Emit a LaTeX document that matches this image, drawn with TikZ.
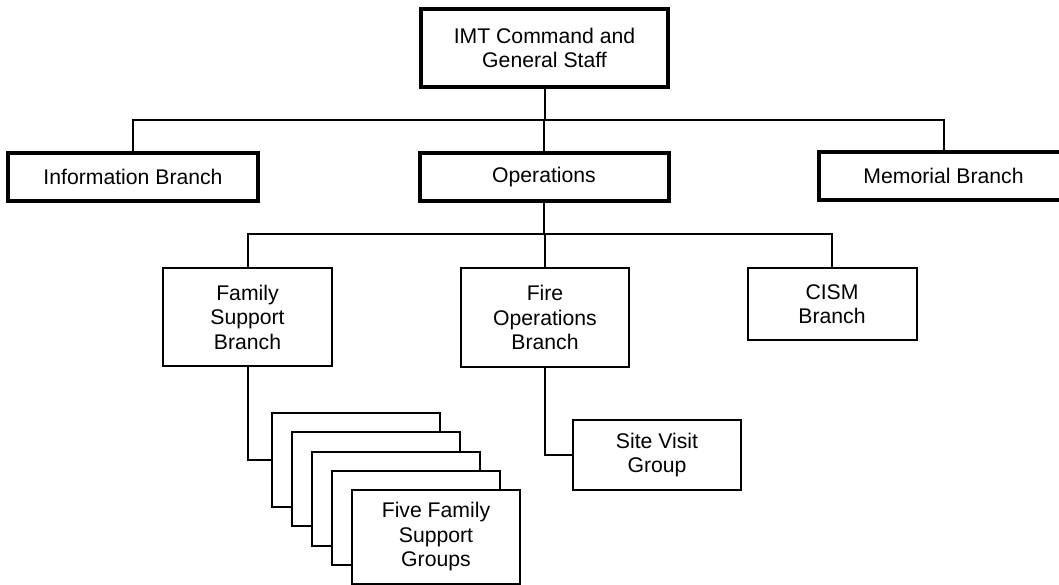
\documentclass[tikz,border=0pt]{standalone}
\usepackage{fontspec}
\setmainfont{Liberation Sans}
\begin{document}
\begin{tikzpicture}[x=1pt,y=-1pt,
  box/.style={draw=black,fill=white,rectangle,align=center,inner sep=0pt,
    font=\fontsize{21.2}{24.5}\selectfont},
  thickbox/.style={box,line width=4pt},
  thinbox/.style={box,line width=2pt},
  conn/.style={draw=black,line width=2pt}]
\useasboundingbox (0,0) rectangle (1059,584);
% top level
\node[thickbox,minimum width=247pt,minimum height=78pt] (top) at (544.5,48) {IMT Command and\\General Staff};
\node[thickbox,minimum width=250pt,minimum height=48pt] (info) at (133,177) {Information Branch};
\node[thickbox,minimum width=249pt,minimum height=48pt] (ops) at (544,177) {Operations};
\node[thickbox,minimum width=249pt,minimum height=48pt] (mem) at (943.5,176) {Memorial Branch};
\coordinate (bus1) at (544,119.5);
\draw[conn] (top.south) -- (top.south |- bus1);
\draw[conn] (info.north) -- (info.north |- bus1) -- (mem.north |- bus1) -- (mem.north);
\draw[conn] (ops.north) -- (ops.north |- bus1);
% second level
\node[thinbox,minimum width=169pt,minimum height=98pt] (fam) at (247.5,317) {Family\\Support\\Branch};
\node[thinbox,minimum width=168pt,minimum height=99pt] (fire) at (545,317.5) {Fire\\Operations\\Branch};
\node[thinbox,minimum width=169pt,minimum height=72pt] (cism) at (832,304) {CISM\\Branch};
\coordinate (bus2) at (544,233.5);
\draw[conn] (ops.south) -- (ops.south |- bus2);
\draw[conn] (fam.north) -- (fam.north |- bus2) -- (cism.north |- bus2) -- (cism.north);
\draw[conn] (fire.north) -- (fire.north |- bus2);
% stacked groups
\node[thinbox,minimum width=168pt,minimum height=94pt] (g1) at (356,460) {};
\node[thinbox,minimum width=168pt,minimum height=94pt] (g2) at (376,479.25) {};
\node[thinbox,minimum width=168pt,minimum height=94pt] (g3) at (396,498.5) {};
\node[thinbox,minimum width=168pt,minimum height=94pt] (g4) at (416,517.75) {};
\node[thinbox,minimum width=168pt,minimum height=94pt] (g5) at (436,537) {Five Family\\Support\\Groups};
\draw[conn] (fam.south) |- (g1.west);
% site visit
\node[thinbox,minimum width=168pt,minimum height=70pt] (site) at (657,455) {Site Visit\\Group};
\draw[conn] (fire.south) |- (site.west);
\end{tikzpicture}
\end{document}
